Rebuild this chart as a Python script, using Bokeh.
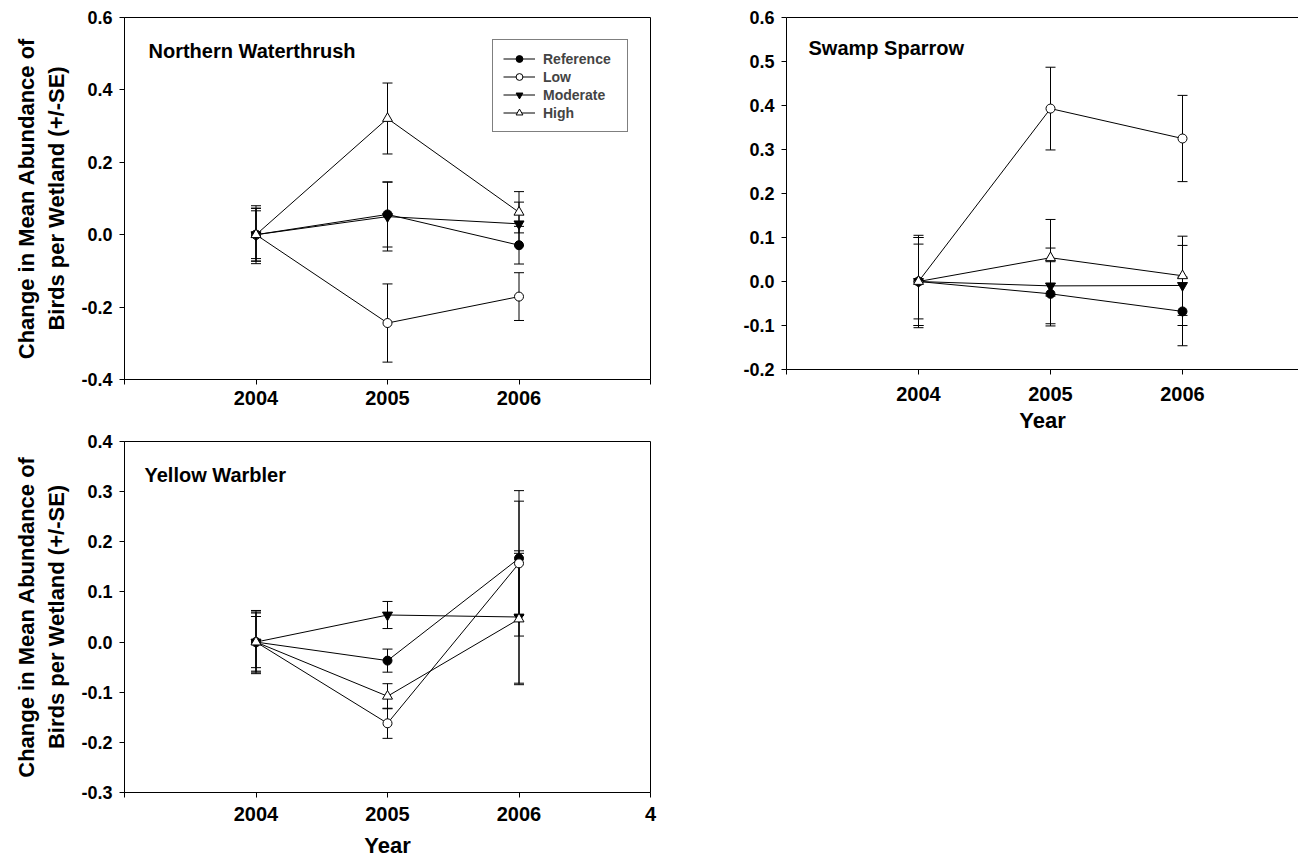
from bokeh.plotting import figure
from bokeh.models import (Whisker, TeeHead, ColumnDataSource, FixedTicker, NumeralTickFormatter,
                          Legend, LegendItem, Label, LinearAxis, Range1d)
from bokeh.layouts import column, row
from bokeh.embed import file_html
from bokeh.resources import INLINE

FONT = "Liberation Sans"

years = [2004, 2005, 2006]
groups = ["Reference", "Low", "Moderate", "High"]

# Northern Waterthrush
nw_ref = [0.0, 0.056, -0.029]
nw_ref_se = [0.080, 0.090, 0.052]
nw_low = [0.0, -0.244, -0.171]
nw_low_se = [0.073, 0.108, 0.066]
nw_mod = [0.0, 0.050, 0.030]
nw_mod_se = [0.066, 0.095, 0.060]
nw_high = [0.0, 0.321, 0.062]
nw_high_se = [0.073, 0.098, 0.057]

# Swamp Sparrow
ss_ref = [0.0, -0.028, -0.068]
ss_ref_se = [0.105, 0.073, 0.078]
ss_low = [0.0, 0.393, 0.325]
ss_low_se = [0.100, 0.094, 0.098]
ss_mod = [0.0, -0.010, -0.009]
ss_mod_se = [0.085, 0.086, 0.091]
ss_high = [0.0, 0.054, 0.013]
ss_high_se = [0.100, 0.087, 0.090]

# Yellow Warbler
yw_ref = [0.0, -0.037, 0.167]
yw_ref_se = [0.063, 0.023, 0.114]
yw_low = [0.0, -0.162, 0.157]
yw_low_se = [0.060, 0.030, 0.145]
yw_mod = [0.0, 0.054, 0.050]
yw_mod_se = [0.058, 0.027, 0.132]
yw_high = [0.0, -0.108, 0.046]
yw_high_se = [0.051, 0.025, 0.131]

x_ticks = [2003, 2004, 2005, 2006, 2007]
nw_yticks = [-0.4, -0.2, 0.0, 0.2, 0.4, 0.6]
ss_yticks = [-0.2, -0.1, 0.0, 0.1, 0.2, 0.3, 0.4, 0.5, 0.6]
yw_yticks = [-0.3, -0.2, -0.1, 0.0, 0.1, 0.2, 0.3, 0.4]

YLABEL = "Change in Mean Abundance of\nBirds per Wetland (+/-SE)"

marker_styles = {
    "Reference": dict(marker="circle", size=9, fill_color="black"),
    "Low": dict(marker="circle", size=9, fill_color="white"),
    "Moderate": dict(marker="inverted_triangle", size=10, fill_color="black"),
    "High": dict(marker="triangle", size=10, fill_color="white"),
}


def style_axis(ax, size):
    ax.axis_line_color = "black"
    ax.axis_line_width = 1
    ax.major_tick_line_color = "black"
    ax.major_tick_in = 0
    ax.major_tick_out = 5
    ax.minor_tick_line_color = None
    ax.major_label_text_font = FONT
    ax.major_label_text_font_style = "bold"
    ax.major_label_text_font_size = size
    ax.major_label_text_color = "black"
    ax.axis_label_text_font = FONT
    ax.axis_label_text_font_style = "bold"
    ax.axis_label_text_color = "black"


def make_panel(title, series, yr, yticks, frame_w, frame_h, borders, x_end,
               ylabel=None, xlabel=None, outline=True, legend=False,
               title_pos=(22, 32), xstand=6, xlabstand=4, last_label=""):
    left, right, top, bottom = borders
    p = figure(frame_width=frame_w, frame_height=frame_h,
               min_border_left=left, min_border_right=right,
               min_border_top=top, min_border_bottom=bottom,
               x_range=Range1d(2003, x_end), y_range=Range1d(*yr),
               output_backend="svg", toolbar_location=None, tools="")
    p.xgrid.visible = False
    p.ygrid.visible = False
    p.background_fill_color = "white"
    p.border_fill_color = "white"

    xa = p.below[0]
    ya = p.left[0]
    style_axis(xa, "20px")
    style_axis(ya, "18px")
    xa.ticker = FixedTicker(ticks=x_ticks, minor_ticks=[])
    xa.major_label_overrides = {2003: "", 2007: last_label, "2003": "", "2007": last_label}
    xa.major_label_standoff = xstand
    ya.ticker = FixedTicker(ticks=yticks, minor_ticks=[])
    ya.formatter = NumeralTickFormatter(format="0.0")
    ya.major_label_standoff = 7
    if ylabel:
        ya.axis_label = ylabel
        ya.axis_label_text_font_size = "22px"
        ya.axis_label_standoff = 9
    if xlabel:
        xa.axis_label = xlabel
        xa.axis_label_text_font_size = "22px"
        xa.axis_label_standoff = xlabstand

    if outline:
        p.outline_line_color = "black"
        p.outline_line_width = 1
    else:
        p.outline_line_color = None
        top_ax = LinearAxis(ticker=FixedTicker(ticks=[], minor_ticks=[]),
                            major_tick_line_color=None, minor_tick_line_color=None,
                            major_label_text_font_size="0px", axis_line_color="black",
                            major_tick_out=0, major_tick_in=0, major_label_standoff=0)
        p.add_layout(top_ax, "above")

    items = []
    for name, (vals, se) in zip(groups, series):
        upper = [v + s for v, s in zip(vals, se)]
        lower = [v - s for v, s in zip(vals, se)]
        src = ColumnDataSource(dict(x=years, y=vals, upper=upper, lower=lower))
        w = Whisker(source=src, base="x", upper="upper", lower="lower",
                    line_color="black", line_width=1,
                    upper_head=TeeHead(size=10, line_color="black", line_width=1),
                    lower_head=TeeHead(size=10, line_color="black", line_width=1))
        p.add_layout(w)
        items.append((name, src))
    rends = {}
    for name, src in items:
        rends[name] = [p.line("x", "y", source=src, line_color="black", line_width=1)]
    for name, src in items:
        st = marker_styles[name]
        rends[name].append(p.scatter("x", "y", source=src, marker=st["marker"], size=st["size"],
                                     fill_color=st["fill_color"], line_color="black", line_width=1))

    lab = Label(x=title_pos[0], y=frame_h - title_pos[1], x_units="screen", y_units="screen",
                text=title, text_font=FONT, text_font_style="bold", text_font_size="20px",
                text_baseline="middle", text_color="black")
    p.add_layout(lab)

    if legend:
        leg = Legend(items=[LegendItem(label=n, renderers=rends[n]) for n in groups],
                     location=(368, 247), orientation="vertical",
                     label_text_font=FONT, label_text_font_style="bold",
                     label_text_font_size="14px", label_height=17, glyph_height=17,
                     glyph_width=32, label_standoff=8, label_width=74, spacing=1,
                     padding=10, margin=0,
                     border_line_color="black", border_line_width=1,
                     background_fill_color="white", background_fill_alpha=1)
        p.add_layout(leg)
    return p


p1 = make_panel("Northern Waterthrush",
                [(nw_ref, nw_ref_se), (nw_low, nw_low_se), (nw_mod, nw_mod_se), (nw_high, nw_high_se)],
                (-0.4, 0.6), nw_yticks, 526, 362, (124, 20, 17, 48), 2007,
                ylabel=YLABEL, legend=True, title_pos=(24, 33), xstand=6)

p3 = make_panel("Yellow Warbler",
                [(yw_ref, yw_ref_se), (yw_low, yw_low_se), (yw_mod, yw_mod_se), (yw_high, yw_high_se)],
                (-0.3, 0.4), yw_yticks, 526, 351, (124, 20, 14, 64), 2007,
                ylabel=YLABEL, xlabel="Year", title_pos=(20, 33), xstand=9, xlabstand=9,
                last_label="4")

p2 = make_panel("Swamp Sparrow",
                [(ss_ref, ss_ref_se), (ss_low, ss_low_se), (ss_mod, ss_mod_se), (ss_high, ss_high_se)],
                (-0.2, 0.6), ss_yticks, 512, 352, (116, 0, 17, 70), 2003 + 512 / 132.0,
                xlabel="Year", outline=False, title_pos=(22, 30), xstand=12, xlabstand=4)

layout = row(column(p1, p3), p2)
open("out.html", "w").write(file_html(layout, INLINE))
